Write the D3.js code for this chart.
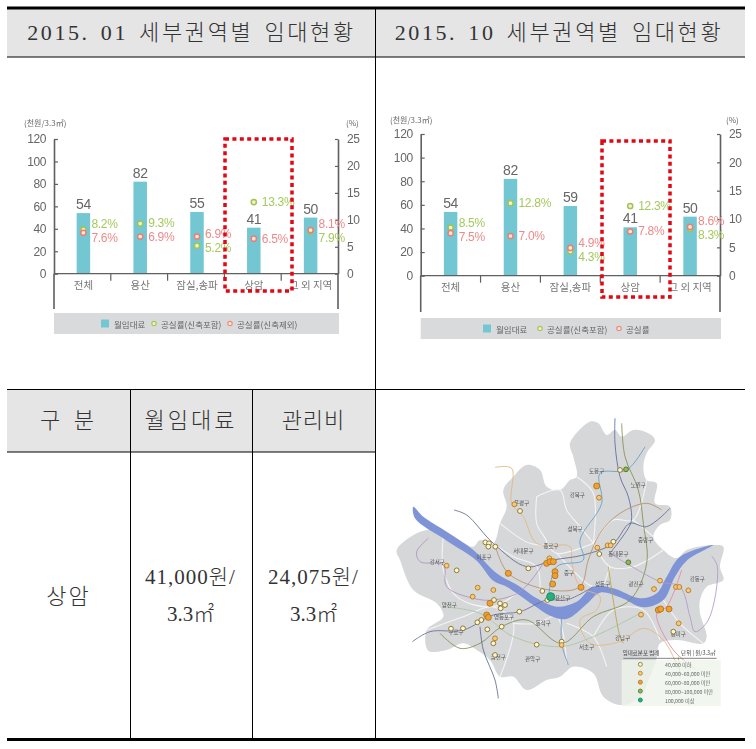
<!DOCTYPE html>
<html>
<head>
<meta charset="utf-8">
<script src="https://cdn.jsdelivr.net/npm/d3@7"></script>
<style>
    html, body { margin: 0; padding: 0; background: #fff; }
    svg { display: block; }
</style>
</head>
<body>
<div id="page"></div>
<script>
// Chart data
const categories = ['전체', '용산', '잠실,송파', '상암', '그 외 지역'];
const leftTicks = [0, 20, 40, 60, 80, 100, 120];
const rightTicks = [0, 5, 10, 15, 20, 25];

const rentJan = [54, 82, 55, 41, 50];
const vacancyAllJan = [8.2, 9.3, 5.2, 13.3, 7.9];
const vacancyExclJan = [7.6, 6.9, 6.9, 6.5, 8.1];
const legendJan = ['월임대료', '공실률(신축포함)', '공실률(신축제외)'];

const rentOct = [54, 82, 59, 41, 50];
const vacancyAllOct = [8.5, 12.8, 4.3, 12.3, 8.3];
const vacancyExclOct = [7.5, 7.0, 4.9, 7.8, 8.6];
const legendOct = ['월임대료', '공실률(신축포함)', '공실률'];

// Table text
const titleJan = '2015. 01 세부권역별 임대현황';
const titleOct = '2015. 10 세부권역별 임대현황';
const tableHead = ['구 분', '월임대료', '관리비'];
const rowName = '상암';
const rentCell = ['41,000원/', '3.3㎡'];
const feeCell = ['24,075원/', '3.3㎡'];

// Map data, in map units (0-1098 across, 0-930 down)
const seoulOutline = [[630,35],[655,40],[680,75],[705,60],[725,80],[760,60],[805,70],[825,90],[800,130],[790,170],[800,210],[830,220],[825,280],[870,290],[870,330],[840,345],[820,380],[850,420],[890,445],[920,420],[1000,405],[1030,410],[1020,470],[1030,510],[980,530],[960,570],[960,610],[980,680],[970,700],[890,690],[840,700],[830,745],[810,800],[780,860],[725,885],[670,860],[640,790],[580,770],[540,800],[500,810],[440,840],[400,800],[360,800],[330,750],[290,720],[250,700],[200,720],[145,722],[140,660],[190,620],[170,580],[100,540],[60,450],[50,420],[110,370],[150,360],[190,380],[240,395],[280,410],[300,390],[340,400],[360,340],[380,290],[370,240],[400,200],[440,165],[480,180],[500,230],[540,240],[570,210],[590,200],[580,140],[570,100]];
const hanRiver = [[100,290],[130,320],[200,365],[280,420],[350,490],[420,530],[470,565],[530,590],[590,575],[640,530],[700,535],[780,565],[830,550],[860,500],[900,440],[1000,405],[920,452],[885,500],[850,570],[790,592],[720,562],[660,548],[620,582],[560,627],[510,617],[460,585],[380,530],[340,512],[290,452],[200,392],[105,325]];
const districtBorders = [
    [[470,260],[540,240],[560,300],[600,350],[640,400]],
    [[470,260],[470,340],[500,400],[450,400],[360,340]],
    [[640,400],[700,330],[760,330],[800,210]],
    [[640,400],[690,470],[760,470],[850,420]],
    [[500,400],[530,430],[640,400]],
    [[340,400],[400,440],[470,470],[480,540]],
    [[530,430],[620,520],[640,530]],
    [[690,470],[670,530]],
    [[190,380],[190,480],[230,560],[340,590],[420,540]],
    [[140,660],[250,620],[340,590],[400,640],[360,800]],
    [[400,640],[470,640],[530,620],[560,760]],
    [[560,640],[640,680],[680,770]],
    [[640,680],[700,600],[790,600],[840,690]],
    [[850,570],[900,640],[970,700]],
    [[590,200],[640,250],[640,400]],
    [[760,330],[820,380]]
];
const subwayLines = [
    { color: '#e3b680', points: [[345,172],[395,175],[395,280],[430,320],[470,400],[570,410],[575,455],[600,530],[660,560],[650,600],[600,630],[630,700],[720,695],[790,655],[850,690],[895,775]] },
    { color: '#5f6a8e', points: [[222,300],[260,315],[340,400],[440,470],[520,450],[610,435],[700,400],[750,340],[800,350],[870,295]] },
    { color: '#5a6aa0', points: [[705,25],[705,100],[720,200],[745,260],[755,320],[750,345],[690,430]] },
    { color: '#7f8f50', points: [[725,40],[735,140],[775,240],[790,340],[800,460],[750,570],[640,620],[545,700],[440,630],[365,650],[300,700],[240,715],[180,670]] },
    { color: '#b58f6a', points: [[345,405],[385,490],[510,540],[600,530],[625,450],[660,370],[720,310],[800,280],[845,300]] },
    { color: '#5f9fce', points: [[795,110],[740,180],[660,190],[665,280],[600,390],[610,450],[530,470],[505,570]] },
    { color: '#69709c', points: [[97,695],[150,665],[250,660],[340,615],[420,605],[500,570],[560,570],[640,530]] },
    { color: '#b08fc0', points: [[145,385],[110,425],[120,455],[190,465],[200,530],[280,565],[340,570],[420,545],[490,460]] },
    { color: '#b09ac8', points: [[690,430],[840,515],[900,530],[930,620],[945,665],[985,630],[1012,470],[995,438]] },
    { color: '#a8c8a0', points: [[190,590],[300,610],[400,680],[540,710],[640,680],[780,610]] },
    { color: '#e08aa8', points: [[905,480],[860,590],[830,610],[880,720],[945,775]] },
    { color: '#5f6a8e', points: [[300,650],[310,720],[345,810],[355,865]] },
    { color: '#6f96c8', points: [[545,620],[545,700],[565,765]] },
    { color: '#b9a24a', points: [[685,470],[720,680],[730,700]] },
    { color: '#a8b868', points: [[895,740],[900,800]] }
];
const dotsLow = [[420,303],[230,481],[316,397],[327,400],[325,410],[346,410],[445,475],[700,395],[658,432],[720,180],[418,605],[365,650],[322,658],[292,637],[304,630],[213,656],[249,655],[470,704],[345,735],[375,585],[360,580],[362,595],[342,570],[340,700],[487,543],[502,570],[545,695],[880,665]];
const dotsMid = [[403,283],[657,263],[200,467],[293,533],[278,560],[840,512],[822,537],[888,531],[898,531],[925,541],[783,614],[896,640],[683,406],[692,406],[652,413],[340,540],[345,685],[545,705],[508,445]];
const dotsHigh = [[385,490],[603,532],[500,460],[510,455],[520,455],[525,485],[525,497],[518,522],[867,597],[835,600],[842,597],[650,228],[320,615],[325,622],[330,580]];
const dotsDark = [[745,457],[738,178]];
const dotsTop = [[512,560]];
const districtNames = ['도봉구', '노원구', '강북구', '은평구', '성북구', '종로구', '서대문구', '중랑구', '동대문구', '마포구', '강서구', '중구', '성동구', '광진구', '강동구', '용산구', '양천구', '영등포구', '동작구', '구로구', '송파구', '강남구', '서초구', '금천구', '관악구'];
const districtSpots = [[650,182],[775,225],[592,255],[425,280],[585,358],[513,407],[430,423],[797,390],[715,433],[312,442],[172,455],[567,490],[668,522],[768,522],[952,507],[548,563],[208,585],[372,622],[490,640],[228,665],[895,672],[728,685],[620,710],[355,742],[458,747]];
const mapLegendTitle = ['임대료분포 범례', '단위 | 원/3.3㎡'];
const mapLegendItems = ['40,000 이하', '40,000~60,000 미만', '60,000~80,000 미만', '80,000~100,000 미만', '100,000 이상'];

const GREY = '#5f6062';
const TEAL = '#72c7d3';
const GREEN = '#a5c95c';
const RED = '#ef8a8a';
const SERIF = '"Liberation Serif", "Noto Sans CJK KR", serif';
const SANS = '"Noto Sans CJK KR", "Noto Sans", sans-serif';
const DIGITS = '"Liberation Sans", "Noto Sans", sans-serif';

const svg = d3.select('#page').append('svg')
    .attr('width', 756)
    .attr('height', 749);

const defs = svg.append('defs');
defs.append('filter').attr('id', 'soft')
    .append('feGaussianBlur').attr('stdDeviation', 0.55);
defs.append('filter').attr('id', 'softMap')
    .append('feGaussianBlur').attr('stdDeviation', 0.7);

// Table
function drawTable() {
    const g = svg.append('g');
    g.append('rect').attr('x', 7).attr('y', 9).attr('width', 738).attr('height', 48).attr('fill', '#e5e5e5');
    g.append('rect').attr('x', 7).attr('y', 390).attr('width', 368).attr('height', 62).attr('fill', '#e5e5e5');

    const rules = [
        [7, 8, 745, 8, 3],
        [7, 57, 745, 57, 1],
        [7, 389.5, 745, 389.5, 1],
        [7, 452, 375, 452, 1],
        [7, 739.5, 745, 739.5, 3],
        [375.5, 9, 375.5, 738, 1],
        [130.5, 390, 130.5, 738, 1],
        [252.5, 390, 252.5, 738, 1]
    ];
    g.selectAll('.rule').data(rules).enter().append('line')
        .attr('class', 'rule')
        .attr('x1', d => d[0]).attr('y1', d => d[1])
        .attr('x2', d => d[2]).attr('y2', d => d[3])
        .attr('stroke', '#000')
        .attr('stroke-width', d => d[4]);

    const cell = (text, x, y, size, spacing, wordGap) => g.append('text')
        .attr('x', x).attr('y', y)
        .attr('text-anchor', 'middle')
        .attr('dominant-baseline', 'central')
        .attr('font-family', SERIF)
        .attr('font-size', size)
        .attr('font-weight', 300)
        .attr('letter-spacing', spacing)
        .attr('word-spacing', wordGap || 0)
        .attr('fill', '#333')
        .text(text);

    cell(titleJan, 191.5, 32, 22, 2.6, 3);
    cell(titleOct, 559, 32, 22, 2.6, 3);
    cell(tableHead[0], 68, 420, 22, 2, 4);
    cell(tableHead[1], 191, 420, 22, 3);
    cell(tableHead[2], 313.5, 420, 22, 1);
    cell(rowName, 68.5, 596, 22, 2);
    cell(rentCell[0], 190.5, 577, 21, 1);
    cell(rentCell[1], 190.5, 614, 21, 0);
    cell(feeCell[0], 313.5, 577, 21, 1);
    cell(feeCell[1], 313.5, 614, 21, 0);
}

// Combo chart
function drawChart(rent, vacancyAll, vacancyExcl, legendNames, opt) {
    const g = svg.append('g').attr('filter', 'url(#soft)');

    const xScale = d3.scaleBand()
        .domain(categories)
        .range([opt.left, opt.right]);
    const yRent = d3.scaleLinear().domain([0, 120]).range([opt.zero, opt.top]);
    const yRate = d3.scaleLinear().domain([0, 25]).range([opt.zero, opt.top]);
    const barWidth = 13.5;
    const center = cat => xScale(cat) + xScale.bandwidth() / 2 + opt.barShift;

    // Bars
    g.selectAll('.bar').data(rent).enter().append('rect')
        .attr('class', 'bar')
        .attr('x', (d, i) => center(categories[i]) - barWidth / 2)
        .attr('y', d => yRent(d))
        .attr('width', barWidth)
        .attr('height', d => opt.zero - yRent(d))
        .attr('fill', TEAL);

    // Axes
    const leftAxis = d3.axisLeft(yRent).tickValues(leftTicks).tickSizeInner(-4).tickSizeOuter(0).tickPadding(8);
    const rightAxis = d3.axisRight(yRate).tickValues(rightTicks).tickSizeInner(-3).tickSizeOuter(0).tickPadding(9);
    const leftG = g.append('g').attr('transform', `translate(${opt.left},0)`).call(leftAxis);
    const rightG = g.append('g').attr('transform', `translate(${opt.right},0)`).call(rightAxis);
    [leftG, rightG].forEach(axis => {
        axis.selectAll('path, line').attr('stroke', GREY).attr('stroke-width', 1.2);
        axis.select('.domain').attr('stroke-width', 1.6);
        axis.selectAll('text').attr('font-family', DIGITS).attr('font-size', 12).attr('fill', '#666').attr('letter-spacing', -0.4);
    });

    // Axis lines run on below the baseline
    [opt.left, opt.right].forEach(x => {
        g.append('line')
            .attr('x1', x).attr('x2', x)
            .attr('y1', opt.zero).attr('y2', opt.bottom)
            .attr('stroke', GREY).attr('stroke-width', 1.6);
    });
    g.append('line')
        .attr('x1', opt.left).attr('x2', opt.right)
        .attr('y1', opt.zero).attr('y2', opt.zero)
        .attr('stroke', GREY).attr('stroke-width', 1.2);

    // Separators between categories
    g.selectAll('.sep').data(categories.slice(1)).enter().append('line')
        .attr('class', 'sep')
        .attr('x1', d => xScale(d)).attr('x2', d => xScale(d))
        .attr('y1', opt.zero).attr('y2', opt.zero + 7)
        .attr('stroke', GREY).attr('stroke-width', 1.2);

    // Category labels
    g.selectAll('.cat').data(categories).enter().append('text')
        .attr('class', 'cat')
        .attr('x', d => center(d))
        .attr('y', opt.zero + 11)
        .attr('text-anchor', 'middle')
        .attr('dominant-baseline', 'central')
        .attr('font-family', SANS)
        .attr('font-size', 10.5)
        .attr('fill', '#777')
        .text(d => d);

    // Bar values
    g.selectAll('.val').data(rent).enter().append('text')
        .attr('class', 'val')
        .attr('x', (d, i) => center(categories[i]))
        .attr('y', d => yRent(d) - 4)
        .attr('text-anchor', 'middle')
        .attr('font-family', DIGITS)
        .attr('font-size', 14)
        .attr('letter-spacing', -0.4)
        .attr('fill', '#666')
        .text(d => d);

    // Vacancy markers and labels
    categories.forEach((cat, i) => {
        const cx = center(cat);
        const yA = yRate(vacancyAll[i]);
        const yE = yRate(vacancyExcl[i]);

        // Labels that would collide get pushed 14px apart
        let labelA = yA;
        let labelE = yE;
        if (Math.abs(yA - yE) < 14) {
            const mid = (yA + yE) / 2;
            labelA = mid + (yA <= yE ? -7 : 7);
            labelE = mid + (yA <= yE ? 7 : -7);
        }

        const series = [
            { color: GREEN, ring: '#9fc452', y: yA, label: labelA, value: vacancyAll[i] },
            { color: RED, ring: '#ee7b7b', y: yE, label: labelE, value: vacancyExcl[i] }
        ];
        series.forEach(s => {
            g.append('circle')
                .attr('cx', cx).attr('cy', s.y).attr('r', 2.6)
                .attr('fill', '#f6f0c8')
                .attr('stroke', s.ring)
                .attr('stroke-width', 1.5);
            g.append('text')
                .attr('x', cx + 8).attr('y', s.label)
                .attr('dominant-baseline', 'central')
                .attr('font-family', DIGITS)
                .attr('font-size', 12)
                .attr('letter-spacing', -0.3)
                .attr('fill', s.color)
                .text(s.value.toFixed(1) + '%');
        });
    });

    // Units
    const unit = (text, x) => g.append('text')
        .attr('x', x).attr('y', opt.unitY)
        .attr('dominant-baseline', 'central')
        .attr('font-family', SANS)
        .attr('font-size', 8)
        .attr('fill', '#666')
        .text(text);
    unit('(천원/3.3㎡)', opt.unitLeft);
    unit('(%)', opt.unitRight);

    // Legend
    g.append('rect')
        .attr('x', opt.left).attr('y', opt.legendY)
        .attr('width', opt.right - opt.left + 1).attr('height', 21)
        .attr('fill', '#d9dadc');
    const legendMid = opt.legendY + 10.5;
    g.append('rect')
        .attr('x', opt.legendX[0]).attr('y', legendMid - 4)
        .attr('width', 8).attr('height', 8)
        .attr('fill', TEAL);
    g.append('circle').attr('cx', opt.legendX[1]).attr('cy', legendMid).attr('r', 2.2)
        .attr('fill', '#f6f0c8').attr('stroke', GREEN).attr('stroke-width', 1.2);
    g.append('circle').attr('cx', opt.legendX[2]).attr('cy', legendMid).attr('r', 2.2)
        .attr('fill', '#f6f0c8').attr('stroke', RED).attr('stroke-width', 1.2);
    legendNames.forEach((name, i) => {
        g.append('text')
            .attr('x', opt.legendX[i] + (i === 0 ? 13 : 7)).attr('y', legendMid)
            .attr('dominant-baseline', 'central')
            .attr('font-family', SANS)
            .attr('font-size', 8.5)
            .attr('fill', '#666')
            .text(name);
    });

    // Red dotted highlight
    svg.append('rect')
        .attr('x', opt.box[0]).attr('y', opt.box[1])
        .attr('width', opt.box[2] - opt.box[0]).attr('height', opt.box[3] - opt.box[1])
        .attr('fill', 'none')
        .attr('stroke', '#e30613')
        .attr('stroke-width', 3.5)
        .attr('stroke-dasharray', '4 3.4');
}

// Map
function drawMap() {
    const mapX = d3.scaleLinear().domain([0, 1098]).range([380, 746]);
    const mapY = d3.scaleLinear().domain([0, 930]).range([410, 720]);
    const line = d3.line().x(d => mapX(d[0])).y(d => mapY(d[1])).curve(d3.curveCatmullRom.alpha(0.5));
    const closed = d3.line().x(d => mapX(d[0])).y(d => mapY(d[1])).curve(d3.curveCatmullRomClosed.alpha(0.5));
    const g = svg.append('g').attr('filter', 'url(#softMap)');

    g.append('path').attr('d', closed(seoulOutline)).attr('fill', '#d6d7d9');
    g.selectAll('.border').data(districtBorders).enter().append('path')
        .attr('class', 'border')
        .attr('d', line)
        .attr('fill', 'none')
        .attr('stroke', '#f4f4f4')
        .attr('stroke-width', 1.1);
    g.append('path').attr('d', closed(hanRiver)).attr('fill', '#7f94d6');

    g.selectAll('.subway').data(subwayLines).enter().append('path')
        .attr('class', 'subway')
        .attr('d', d => line(d.points))
        .attr('fill', 'none')
        .attr('stroke', d => d.color)
        .attr('stroke-opacity', 0.85)
        .attr('stroke-width', 1);

    g.selectAll('.district').data(districtNames).enter().append('text')
        .attr('class', 'district')
        .attr('x', (d, i) => mapX(districtSpots[i][0]))
        .attr('y', (d, i) => mapY(districtSpots[i][1]))
        .attr('text-anchor', 'middle')
        .attr('dominant-baseline', 'central')
        .attr('font-family', SANS)
        .attr('font-size', 5.5)
        .attr('fill', '#555')
        .text(d => d);

    // Map legend panel
    g.append('rect')
        .attr('x', mapX(725)).attr('y', mapY(750))
        .attr('width', mapX(1022) - mapX(725)).attr('height', mapY(888) - mapY(750))
        .attr('fill', '#eef5ea').attr('fill-opacity', 0.8);
    g.append('line')
        .attr('x1', mapX(730)).attr('x2', mapX(1010))
        .attr('y1', mapY(745)).attr('y2', mapY(745))
        .attr('stroke', '#666').attr('stroke-width', 0.8);
    g.append('text')
        .attr('x', mapX(783)).attr('y', mapY(728))
        .attr('text-anchor', 'middle').attr('dominant-baseline', 'central')
        .attr('font-family', SANS).attr('font-size', 5.5).attr('fill', '#444')
        .text(mapLegendTitle[0]);
    g.append('text')
        .attr('x', mapX(955)).attr('y', mapY(728))
        .attr('text-anchor', 'middle').attr('dominant-baseline', 'central')
        .attr('font-family', SANS).attr('font-size', 5.5).attr('fill', '#444')
        .text(mapLegendTitle[1]);

    const dotStyles = [
        { fill: '#fbf6d8', stroke: '#8f7a30' },
        { fill: '#f6c878', stroke: '#b8822a' },
        { fill: '#f0a030', stroke: '#b87a20' },
        { fill: '#8fb858', stroke: '#5a7a30' },
        { fill: '#25b07f', stroke: '#1c8a64' }
    ];
    const dotGroups = [dotsLow, dotsMid, dotsHigh, dotsDark, dotsTop];
    dotGroups.forEach((dots, k) => {
        g.selectAll('.dot' + k).data(dots).enter().append('circle')
            .attr('class', 'dot' + k)
            .attr('cx', d => mapX(d[0]))
            .attr('cy', d => mapY(d[1]))
            .attr('r', k === 4 ? 4 : (k === 2 ? 3 : 2.4))
            .attr('fill', dotStyles[k].fill)
            .attr('stroke', dotStyles[k].stroke)
            .attr('stroke-width', 1);
    });

    const legendRow = d3.scalePoint().domain(mapLegendItems).range([mapY(763), mapY(870)]);
    g.selectAll('.keyDot').data(mapLegendItems).enter().append('circle')
        .attr('class', 'keyDot')
        .attr('cx', mapX(781))
        .attr('cy', d => legendRow(d))
        .attr('r', 2)
        .attr('fill', (d, i) => dotStyles[i].fill)
        .attr('stroke', (d, i) => dotStyles[i].stroke)
        .attr('stroke-width', 0.9);
    g.selectAll('.keyText').data(mapLegendItems).enter().append('text')
        .attr('class', 'keyText')
        .attr('x', mapX(855))
        .attr('y', d => legendRow(d))
        .attr('dominant-baseline', 'central')
        .attr('font-family', SANS)
        .attr('font-size', 5.2)
        .attr('fill', '#666')
        .text(d => d);
}

drawTable();
drawChart(rentJan, vacancyAllJan, vacancyExclJan, legendJan, {
    left: 54, right: 338, top: 139, zero: 273.7, bottom: 309, barShift: 1,
    unitLeft: 24, unitRight: 346, unitY: 122.5, legendY: 313,
    legendX: [101, 154, 230], box: [225, 139, 292, 291]
});
drawChart(rentOct, vacancyAllOct, vacancyExclOct, legendOct, {
    left: 420.7, right: 720, top: 134, zero: 275.7, bottom: 312, barShift: 0,
    unitLeft: 390, unitRight: 726, unitY: 119, legendY: 318,
    legendX: [483, 540, 619], box: [602, 141, 670, 297]
});
drawMap();
</script>
</body>
</html>
